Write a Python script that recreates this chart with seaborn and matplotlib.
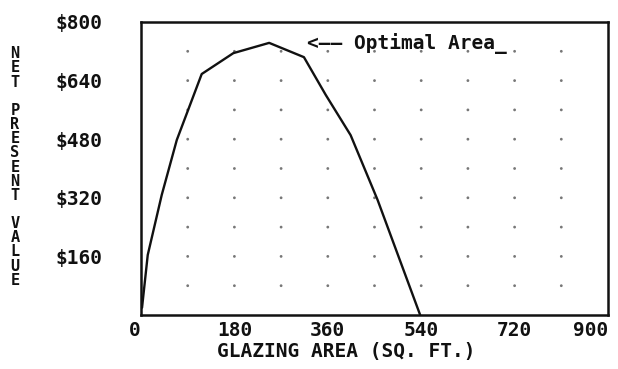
import matplotlib
matplotlib.use("Agg")
import matplotlib.pyplot as plt
import seaborn as sns
import pandas as pd
import numpy as np

# Data
glazing_area = [2, 13, 40, 69, 117, 178, 247, 314, 356, 404, 456, 538]
npv = [20, 164, 328, 478, 658, 715, 743, 704, 601, 491, 314, 0]

x_major_ticks = [0, 180, 360, 540, 720, 900]
x_tick_labels = ["0", "180", "360", "540", "720", "900"]
y_major_ticks = [160, 320, 480, 640, 800]
y_tick_labels = ["$160", "$320", "$480", "$640", "$800"]
grid_x = [90, 180, 270, 360, 450, 540, 630, 720, 810]
grid_y = [80, 160, 240, 320, 400, 480, 560, 640, 720]

sns.set_style("white")
plt.rcParams['font.family'] = ['DejaVu Sans Mono', 'DejaVu Sans']

FONT = dict(family=['DejaVu Sans Mono', 'DejaVu Sans'], weight='semibold', size=14)

fig = plt.figure(figsize=(6.18, 3.69), dpi=100)
ax = fig.add_axes([141/618, 1 - 315/369, (608-141)/618, (315-22)/369])

df = pd.DataFrame({"area": glazing_area, "npv": npv})
sns.lineplot(data=df, x="area", y="npv", sort=False, color="#111111", linewidth=1.7, ax=ax)

gx, gy = np.meshgrid(grid_x, grid_y)
grid_df = pd.DataFrame({"x": gx.ravel(), "y": gy.ravel()})
sns.scatterplot(data=grid_df, x="x", y="y", s=4, color="#777777", edgecolor="none", ax=ax, zorder=1)

ax.set_xlim(0, 900)
ax.set_ylim(0, 800)
ax.set_xticks(np.arange(0, 901, 90), minor=True)
ax.set_yticks(np.arange(0, 801, 80), minor=True)
ax.set_xticks(x_major_ticks)
ax.set_xticklabels(x_tick_labels, fontdict=FONT)
ax.set_yticks(y_major_ticks)
ax.set_yticklabels(y_tick_labels, fontdict=FONT)
ax.tick_params(axis='both', which='both', direction='in', color='#111111', width=1.3)
ax.tick_params(axis='x', which='both', length=5, pad=4)
ax.tick_params(axis='y', which='both', length=6, pad=28)
ax.tick_params(which='major', labelcolor='#111111')

labels = ax.get_xticklabels()
labels[0].set_horizontalalignment('right')
labels[-1].set_horizontalalignment('right')

for s in ax.spines.values():
    s.set_linewidth(1.8)
    s.set_color('#111111')

ax.set_xlabel("")
ax.set_ylabel("")

ax.text(320, 740, "<\u2014\u2014 Optimal Area_", fontdict=FONT, va='center', ha='left', color='#111111')

fig.text(346/618, 1 - 352/369, "GLAZING AREA (SQ. FT.)", fontdict=FONT, ha='center', va='center', color='#111111')
fig.text(15/618, 1 - 167/369, "\n".join(list("NET PRESENT VALUE")), fontdict=dict(FONT, size=11),
         ha='center', va='center', linespacing=0.93, color='#111111')

fig.savefig("out.png", dpi=100, facecolor='white')
